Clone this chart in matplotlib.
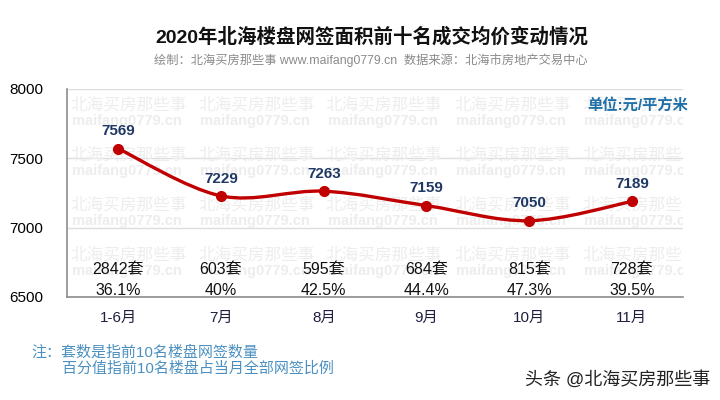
import numpy as np
import matplotlib
matplotlib.use('Agg')
import matplotlib.pyplot as plt
from matplotlib.path import Path
from matplotlib.patches import PathPatch

plt.rcParams['font.family'] = ['Liberation Sans', 'Noto Sans CJK SC', 'DejaVu Sans']

# data
months = ['1-6月', '7月', '8月', '9月', '10月', '11月']
avg_price = [7569, 7229, 7263, 7159, 7050, 7189]
units = [2842, 603, 595, 684, 815, 728]
share = ['36.1%', '40%', '42.5%', '44.4%', '47.3%', '39.5%']
yticks = [6500, 7000, 7500, 8000]

red = '#C00000'
navy = '#1F3864'

fig = plt.figure(figsize=(7.2, 4.0), dpi=100)
ax = fig.add_axes([0.093, 0.2575, 0.856, 0.52])

x = np.arange(len(months))
y = np.array(avg_price, dtype=float)

# smooth line (catmull-rom -> cubic bezier) through the data points
pts = np.column_stack([x, y])
ext = np.vstack([pts[0], pts, pts[-1]])
verts = [tuple(pts[0])]
codes = [Path.MOVETO]
for i in range(len(pts) - 1):
    p0, p1, p2, p3 = ext[i], ext[i + 1], ext[i + 2], ext[i + 3]
    c1 = p1 + (p2 - p0) / 6.0
    c2 = p2 - (p3 - p1) / 6.0
    verts += [tuple(c1), tuple(c2), tuple(p2)]
    codes += [Path.CURVE4] * 3
ax.add_patch(PathPatch(Path(verts, codes), fill=False, edgecolor=red, lw=2.4,
                       capstyle='round', joinstyle='round', zorder=4))
ax.plot(x, y, 'o', color=red, ms=7, zorder=5)

for xi, v in zip(x, avg_price):
    ax.annotate(str(v), (xi, v), xytext=(0, 12.5), textcoords='offset points',
                ha='center', va='center', fontsize=11, fontweight='bold',
                color=navy, zorder=6)

for xi, n, s in zip(x, units, share):
    ax.text(xi, 6695, f'{n}套', ha='center', va='center', fontsize=11.5,
            color='#111111', zorder=6)
    ax.text(xi, 6550, s, ha='center', va='center', fontsize=11.5,
            color='#111111', zorder=6)

# background watermark
wm = '#EDEDED'
for ry in [0.923, 0.683, 0.442, 0.202]:
    for cx in [0.005, 0.213, 0.42, 0.628, 0.836]:
        ax.text(cx, ry, '北海买房那些事', transform=ax.transAxes, fontsize=12,
                color=wm, ha='left', va='center', clip_on=True, zorder=1)
        ax.text(cx + 0.003, ry - 0.077, 'maifang0779.cn', transform=ax.transAxes,
                fontsize=10.5, fontweight='bold', color=wm, ha='left',
                va='center', clip_on=True, zorder=1)

ax.set_xlim(-0.5, len(months) - 0.5)
ax.set_ylim(6500, 8000)
ax.set_yticks(yticks)
ax.set_yticklabels([str(t) for t in yticks], fontsize=11)
ax.set_xticks(x)
ax.set_xticklabels(months, fontsize=11, color='#1F1F3F')
ax.tick_params(axis='both', length=0)
ax.tick_params(axis='y', pad=17)
ax.tick_params(axis='x', pad=10)
ax.grid(axis='y', color='#DDDDDD', lw=1)
ax.set_axisbelow(True)
for s in ['top', 'right']:
    ax.spines[s].set_visible(False)
ax.spines['left'].set_color('#8C8C8C')
ax.spines['bottom'].set_color('#8C8C8C')
ax.spines['left'].set_linewidth(1.2)
ax.spines['bottom'].set_linewidth(1.2)

fig.text(0.517, 0.907, '2020年北海楼盘网签面积前十名成交均价变动情况', ha='center',
         va='center', fontsize=14, fontweight='bold', color='#111111')
fig.text(0.515, 0.849, '绘制：北海买房那些事 www.maifang0779.cn  数据来源：北海市房地产交易中心',
         ha='center', va='center', fontsize=8.8, color='#8A8A8A')
fig.text(0.956, 0.737, '单位:元/平方米', ha='right', va='center', fontsize=11,
         fontweight='bold', color='#1F6FA8')

fig.text(0.044, 0.12, '注：套数是指前10名楼盘网签数量', ha='left', va='center',
         fontsize=10.8, color='#4A90C0')
fig.text(0.086, 0.078, '百分值指前10名楼盘占当月全部网签比例', ha='left', va='center',
         fontsize=10.8, color='#4A90C0')
fig.text(0.986, 0.05, '头条 @北海买房那些事', ha='right', va='center', fontsize=13,
         color='#222222')

fig.savefig('out.png', dpi=100, facecolor='white')
